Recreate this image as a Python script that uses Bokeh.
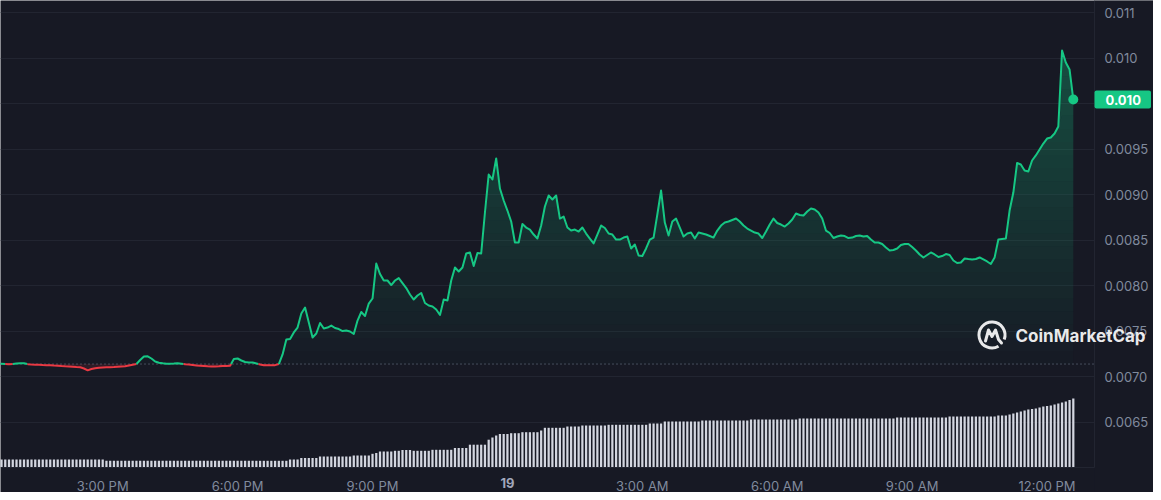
import numpy as np
import pandas as pd
from bokeh.plotting import figure
from bokeh.models import (Range1d, FixedTicker, Span, Label, ColumnDataSource,
                          LinearAxis, BoxAnnotation)
from bokeh.embed import file_html
from bokeh.resources import INLINE

# ---------------- data ----------------
START = "2024-01-18 12:35"          # first 5-minute sample (day 18)
# price in micro-USD, one value every 5 minutes (24 h)
price_musd = [
    7137, 7137, 7141, 7137, 7134, 7137, 7143, 7145, 7145, 7136, 7132, 7130,
    7129, 7126, 7125, 7124, 7121, 7119, 7115, 7112, 7110, 7107, 7104, 7102,
    7088, 7068, 7082, 7090, 7096, 7099, 7101, 7102, 7104, 7107, 7110, 7112,
    7121, 7130, 7137, 7181, 7220, 7222, 7198, 7165, 7152, 7145, 7140, 7141,
    7143, 7146, 7141, 7134, 7131, 7126, 7121, 7118, 7115, 7112, 7110, 7110,
    7112, 7115, 7116, 7118, 7192, 7198, 7176, 7159, 7154, 7154, 7143, 7132,
    7124, 7123, 7124, 7125, 7137, 7242, 7407, 7412, 7484, 7538, 7692, 7758,
    7593, 7429, 7473, 7588, 7527, 7538, 7560, 7533, 7522, 7500, 7505, 7495,
    7467, 7615, 7709, 7665, 7802, 7857, 8242, 8126, 8055, 8055, 8005, 8055,
    8082, 8027, 7972, 7901, 7846, 7890, 7918, 7808, 7780, 7769, 7736, 7676,
    7846, 7835, 8055, 8198, 8154, 8198, 8352, 8363, 8214, 8357, 8352, 8802,
    9220, 9165, 9396, 9066, 8934, 8824, 8703, 8473, 8473, 8676, 8637, 8615,
    8560, 8516, 8659, 8868, 8989, 8945, 8989, 8736, 8758, 8637, 8604, 8615,
    8593, 8637, 8571, 8516, 8462, 8560, 8659, 8632, 8571, 8560, 8505, 8505,
    8527, 8538, 8407, 8451, 8330, 8324, 8407, 8505, 8527, 8780, 9044, 8692,
    8549, 8703, 8736, 8637, 8538, 8571, 8582, 8516, 8582, 8571, 8560, 8544,
    8527, 8604, 8659, 8692, 8703, 8720, 8736, 8703, 8659, 8626, 8604, 8582,
    8571, 8522, 8593, 8670, 8736, 8687, 8670, 8648, 8681, 8725, 8791, 8775,
    8769, 8813, 8846, 8835, 8802, 8736, 8604, 8577, 8522, 8538, 8549, 8544,
    8522, 8527, 8544, 8549, 8538, 8544, 8505, 8473, 8473, 8456, 8418, 8385,
    8390, 8407, 8445, 8456, 8456, 8423, 8385, 8341, 8308, 8335, 8363, 8341,
    8313, 8324, 8346, 8335, 8275, 8247, 8253, 8297, 8291, 8286, 8291, 8308,
    8286, 8264, 8236, 8308, 8505, 8511, 8516, 8824, 9022, 9346, 9330, 9264,
    9253, 9374, 9429, 9495, 9560, 9615, 9626, 9670, 9747, 10582, 10451, 10374,
    10044,
]
# rolling 24h volume (relative units), one bar per 5-minute sample
volume = [
    8.0, 8.0, 8.0, 8.0, 8.0, 8.0, 8.0, 8.0, 8.0, 8.0, 8.0, 8.0,
    8.0, 8.0, 8.0, 8.0, 8.0, 8.0, 8.0, 8.0, 8.0, 8.0, 8.0, 8.0,
    8.0, 8.0, 8.0, 8.0, 8.0, 8.0, 6.7, 6.7, 6.7, 6.7, 6.7, 6.7,
    6.7, 6.7, 6.7, 6.7, 6.7, 6.7, 6.7, 6.7, 6.7, 6.7, 6.7, 6.7,
    6.7, 6.7, 6.7, 6.7, 6.7, 6.7, 6.7, 6.7, 6.7, 6.7, 6.7, 6.7,
    6.7, 6.7, 6.7, 6.7, 6.7, 6.7, 6.7, 6.7, 6.7, 6.7, 6.7, 6.7,
    6.7, 6.7, 6.7, 6.7, 6.7, 6.7, 6.7, 8.0, 8.0, 8.0, 9.5, 9.5,
    9.5, 9.5, 9.5, 11.0, 11.0, 11.0, 11.0, 11.0, 11.0, 11.0, 11.0, 11.0,
    12.0, 12.0, 12.0, 12.0, 12.0, 13.7, 14.5, 16.0, 16.0, 16.0, 16.0, 16.7,
    16.7, 17.5, 17.5, 17.5, 16.7, 16.7, 16.7, 16.7, 16.7, 17.7, 17.7, 17.7,
    17.7, 17.7, 17.7, 19.5, 19.5, 19.5, 19.5, 22.8, 22.8, 22.8, 22.8, 22.8,
    27.8, 30.0, 32.0, 33.5, 33.5, 33.5, 34.3, 34.3, 34.3, 35.3, 35.3, 35.3,
    35.3, 35.3, 37.0, 39.7, 39.7, 39.7, 39.7, 39.7, 39.7, 41.0, 41.0, 41.0,
    41.0, 42.0, 42.0, 42.0, 42.0, 42.0, 42.0, 42.0, 42.7, 42.7, 42.7, 42.7,
    42.7, 42.7, 42.7, 42.7, 42.7, 42.7, 42.7, 44.0, 44.0, 44.0, 44.0, 46.0,
    46.0, 46.0, 46.0, 46.0, 46.0, 46.0, 46.0, 46.0, 46.0, 47.0, 47.0, 47.0,
    47.0, 47.0, 47.0, 47.0, 47.0, 47.0, 47.0, 47.0, 47.0, 47.0, 48.0, 48.0,
    48.0, 48.0, 48.0, 48.0, 48.0, 48.0, 48.0, 48.0, 48.0, 48.0, 48.0, 49.0,
    49.0, 49.0, 49.0, 49.0, 49.0, 49.0, 49.0, 49.0, 49.0, 49.0, 49.0, 49.0,
    49.0, 49.0, 49.0, 49.0, 49.0, 49.0, 49.0, 49.0, 49.0, 49.0, 49.0, 49.0,
    49.0, 50.0, 50.0, 50.0, 50.0, 50.0, 50.0, 50.0, 50.0, 50.0, 50.0, 50.0,
    50.0, 50.0, 50.0, 51.0, 51.0, 51.0, 51.0, 51.0, 51.0, 51.0, 51.0, 51.0,
    51.0, 51.0, 51.0, 51.0, 52.0, 52.0, 52.0, 53.0, 54.0, 55.0, 56.0, 57.0,
    58.0, 58.5, 59.0, 60.0, 61.0, 61.5, 62.0, 63.0, 64.0, 65.0, 66.0, 67.5,
    69.0,
]
tick_hours = [15, 18, 21, 24, 27, 30, 33, 36]          # hours since 00:00 on day 18
tick_labels = ["3:00 PM", "6:00 PM", "9:00 PM", "19", "3:00 AM", "6:00 AM", "9:00 AM", "12:00 PM"]
bold_tick_labels = ["19"]
price_ticks = [0.0065, 0.0070, 0.0075, 0.0080, 0.0085, 0.0090, 0.0095, 0.0100, 0.0105, 0.0110]
price_tick_labels = ["0.0065", "0.0070", "0.0075", "0.0080", "0.0085", "0.0090", "0.0095", "0.010", "0.010", "0.011"]
last_price_label = "0.010"
brand = "CoinMarketCap"

# ---------------- styles ----------------
BG = "#171924"
GRID = "#222531"
GREEN = "#16c784"
RED = "#ea3943"
AXIS_TXT = "#808a9d"
FONT = "Inter"

times = pd.date_range(START, periods=len(price_musd), freq="5min")
day0 = times[0].normalize()
hours = ((times - day0) / pd.Timedelta(hours=1)).to_numpy(dtype=float)
price = np.array(price_musd, dtype=float) * 1e-6
base = price[0]

# the frame covers the whole canvas; the axes sit inside it at fixed locations
FW, FH = 1153, 492
CHART_W, CHART_H = 1094, 467        # chart area (left of price axis, above time axis)
PXH = 44.97                         # pixels per hour
PXP = 91000.0                       # pixels per USD
X_START = 12.7274
X_END = X_START + FW / PXH
Y_END = 0.011132
Y_START = Y_END - FH / PXP
X_AXIS = X_START + CHART_W / PXH    # price axis position
Y_AXIS = Y_END - CHART_H / PXP      # time axis position


def sx(px):   # px from left -> data x
    return X_START + px / PXH


def sy(py):   # px from top -> data y
    return Y_END - py / PXP


p = figure(frame_width=FW, frame_height=FH,
           x_range=Range1d(X_START, X_END), y_range=Range1d(Y_START, Y_END),
           y_axis_location="right", output_backend="svg", toolbar_location=None,
           min_border_left=0, min_border_top=0, min_border_right=0, min_border_bottom=0,
           background_fill_color=BG, border_fill_color=BG, outline_line_color=None)

# time axis
p.xaxis.ticker = FixedTicker(ticks=tick_hours)
p.xaxis.fixed_location = Y_AXIS
p.xaxis.bounds = (X_START, X_AXIS)
p.xaxis.major_label_overrides = {h: ("" if lab in bold_tick_labels else lab)
                                 for h, lab in zip(tick_hours, tick_labels)}
p.xaxis.axis_line_color = GRID
bold_hours = [tick_hours[tick_labels.index(lab)] for lab in bold_tick_labels]
day_axis = LinearAxis(ticker=FixedTicker(ticks=bold_hours), fixed_location=Y_AXIS,
                      major_label_overrides={h: lab for h, lab in zip(bold_hours, bold_tick_labels)},
                      axis_line_color=None, major_label_text_font_style="bold")
p.add_layout(day_axis, "below")

# price axis
yt = FixedTicker(ticks=price_ticks)
p.yaxis.ticker = yt
p.yaxis.fixed_location = X_AXIS
p.yaxis.bounds = (Y_AXIS, Y_END)
p.ygrid.ticker = yt
hidden_tick = min(price_ticks, key=lambda t: abs(t - price[-1]))
p.yaxis.major_label_overrides = {t: ("" if t == hidden_tick else lab)
                                 for t, lab in zip(price_ticks, price_tick_labels)}
p.yaxis.axis_line_color = GRID
for ax in p.axis:
    ax.major_tick_line_color = None
    ax.minor_tick_line_color = None
    ax.major_tick_in = 0
    ax.major_tick_out = 0
    ax.minor_tick_in = 0
    ax.minor_tick_out = 0
    ax.major_label_text_font = FONT
    ax.major_label_text_font_size = "13px"
    ax.major_label_standoff = 10
p.xaxis.major_label_text_color = AXIS_TXT
p.yaxis.major_label_text_color = AXIS_TXT
day_axis.major_label_text_color = "#a1a7bb"
p.xgrid.visible = False
p.ygrid.grid_line_color = GRID
p.ygrid.grid_line_width = 1

# baseline (opening price)
p.add_layout(Span(location=base, dimension="width", line_color=AXIS_TXT,
                  line_dash="1 3", line_width=1, line_alpha=0.9, level="underlay"))
# axis-label strip: hides grid / baseline right of the chart area
p.add_layout(BoxAnnotation(left=X_AXIS, fill_color=BG, fill_alpha=1.0, line_color=None,
                           level="underlay"))

# volume bars (their baseline is the time axis)
vol_per_px = max(volume) / 69.0
p.extra_y_ranges = {"vol": Range1d(-(FH - CHART_H) * vol_per_px, CHART_H * vol_per_px)}
p.vbar(x=hours, top=volume, bottom=0, width=0.05, y_range_name="vol",
       fill_color="#d3d6e0", line_color=None)

# gradient fill above baseline
NB = 24
levels = np.linspace(base, price.max(), NB + 1)
for k in range(NB):
    lo = np.minimum(price, levels[k])
    hi = np.minimum(price, levels[k + 1])
    p.varea(x=hours, y1=lo, y2=hi, fill_color=GREEN,
            fill_alpha=0.01 + 0.30 * (k + 0.5) / NB)
p.varea(x=hours, y1=np.minimum(price, base), y2=base, fill_color=RED, fill_alpha=0.12)


# line colored by side of baseline
def colored_runs(xs, ys, b):
    runs = []
    for i in range(len(xs) - 1):
        x0, y0, x1, y1 = xs[i], ys[i], xs[i + 1], ys[i + 1]
        a, c = y0 >= b, y1 >= b
        if a == c:
            pieces = [(x0, y0, x1, y1, a)]
        else:
            xc = x0 + (b - y0) * (x1 - x0) / (y1 - y0)
            pieces = [(x0, y0, xc, b, a), (xc, b, x1, y1, c)]
        for u0, v0, u1, v1, up in pieces:
            if runs and runs[-1][0] == up:
                runs[-1][1].append(u1)
                runs[-1][2].append(v1)
            else:
                runs.append([up, [u0, u1], [v0, v1]])
    return runs


runs = colored_runs(hours, price, base)
src = ColumnDataSource(dict(xs=[r[1] for r in runs], ys=[r[2] for r in runs],
                            color=[GREEN if r[0] else RED for r in runs]))
p.multi_line(xs="xs", ys="ys", line_color="color", line_width=2, line_join="round", source=src)

# last point
p.scatter(x=[hours[-1]], y=[price[-1]], size=10, fill_color=GREEN, line_color=None)

# last price tag
p.add_layout(Label(x=X_AXIS, y=price[-1], text=last_price_label, text_align="left",
                   text_baseline="middle", text_color="white", text_font=FONT,
                   text_font_style="bold", text_font_size="13px", level="overlay",
                   background_fill_color=GREEN, border_radius=2,
                   padding=dict(left=11, right=10, top=4, bottom=4)))

# watermark logo
cx, cy = sx(991.5), sy(334.5)
p.arc(x=[cx], y=[cy], radius=13, radius_units="screen", start_angle=-0.35,
      end_angle=5.24, line_color="white", line_width=3, line_alpha=0.9)
mx = np.array([-6.5, -3.5, 0.0, 3.5, 6.5, 9.5])
my = np.array([-6.0, 5.0, -1.5, 5.0, -4.5, -8.0])
p.line(x=cx + mx / PXH, y=cy + my / PXP, line_color="white", line_width=3,
       line_alpha=0.9, line_join="round", line_cap="round")
p.add_layout(Label(x=sx(1015), y=sy(335), text=brand,
                   text_align="left", text_baseline="middle", level="overlay",
                   text_color="white", text_alpha=0.92, text_font=FONT, text_font_style="bold",
                   text_font_size="17px"))

open("out.html", "w").write(file_html(p, INLINE))
